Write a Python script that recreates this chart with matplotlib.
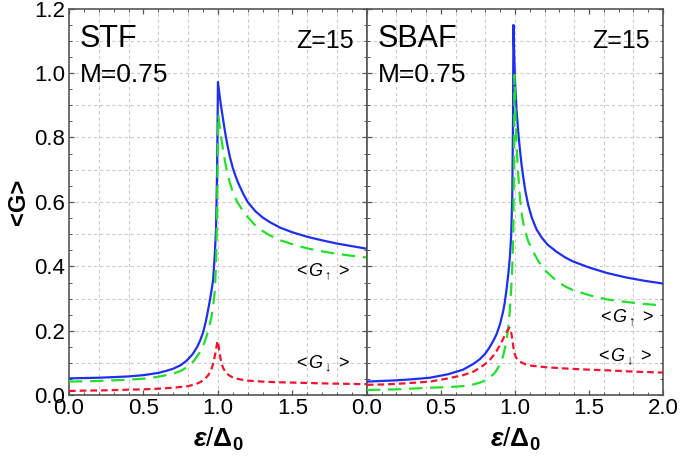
import matplotlib
matplotlib.use("Agg")
import matplotlib.pyplot as plt
from matplotlib import font_manager
from matplotlib.ticker import MultipleLocator

# ---- data ----
# STF panel
stf_tot_x = [0.0, 0.1, 0.2, 0.3, 0.4, 0.5, 0.6, 0.65, 0.7, 0.75, 0.79, 0.83, 0.86, 0.88, 0.9, 0.92,
             0.94, 0.955, 0.968, 0.978, 0.987, 0.993, 0.997, 1.0,
             1.01, 1.02, 1.03, 1.045, 1.06, 1.08, 1.1, 1.12, 1.14, 1.17, 1.2, 1.25, 1.3, 1.35,
             1.42, 1.5, 1.6, 1.7, 1.8, 1.9, 2.0]
stf_tot_y = [0.053, 0.054, 0.055, 0.057, 0.059, 0.063, 0.070, 0.076, 0.083, 0.094, 0.108, 0.128, 0.150, 0.170, 0.195, 0.232,
             0.28, 0.32, 0.36, 0.43, 0.513, 0.66, 0.81, 0.972,
             0.935, 0.90, 0.87, 0.825, 0.785, 0.74, 0.705, 0.678, 0.655, 0.625, 0.60, 0.572, 0.552, 0.537,
             0.520, 0.506, 0.492, 0.481, 0.471, 0.463, 0.455]
stf_up_x = [0.0, 0.1, 0.2, 0.3, 0.4, 0.5, 0.6, 0.7, 0.75, 0.79, 0.84, 0.88, 0.91, 0.935, 0.955, 0.969,
            0.98, 0.988, 0.994, 0.998, 1.003,
            1.01, 1.025, 1.04, 1.058, 1.08, 1.1, 1.13, 1.16, 1.2, 1.25, 1.3, 1.35, 1.42, 1.5, 1.6,
            1.7, 1.8, 1.9, 2.0]
stf_up_y = [0.043, 0.044, 0.045, 0.047, 0.049, 0.052, 0.058, 0.068, 0.076, 0.087, 0.108, 0.135, 0.165, 0.20, 0.24, 0.28,
            0.33, 0.42, 0.56, 0.72, 0.87,
            0.84, 0.79, 0.745, 0.70, 0.66, 0.63, 0.60, 0.578, 0.553, 0.528, 0.510, 0.496, 0.481, 0.469, 0.456,
            0.447, 0.439, 0.433, 0.428]
stf_dn_x = [0.0, 0.1, 0.25, 0.4, 0.5, 0.6, 0.7, 0.8, 0.85, 0.88, 0.91, 0.935, 0.955, 0.969, 0.98, 0.99,
            0.997, 1.003, 1.01, 1.017, 1.024, 1.035, 1.057, 1.08, 1.1, 1.146, 1.2, 1.3, 1.4, 1.5,
            1.75, 2.0]
stf_dn_y = [0.014, 0.015, 0.016, 0.018, 0.019, 0.021, 0.024, 0.029, 0.035, 0.041, 0.050, 0.063, 0.080, 0.100, 0.125, 0.150,
            0.169, 0.160, 0.135, 0.115, 0.10, 0.085, 0.069, 0.061, 0.056, 0.050, 0.046, 0.043, 0.041, 0.040,
            0.037, 0.035]

# SBAF panel
sbaf_tot_x = [0.0, 0.1, 0.2, 0.3, 0.426, 0.55, 0.65, 0.72, 0.764, 0.8, 0.83, 0.86, 0.876, 0.9, 0.92,
              0.932, 0.945, 0.956, 0.966, 0.975, 0.982, 0.987, 0.99,
              0.995, 1.0, 1.011, 1.022, 1.034, 1.045, 1.056, 1.07, 1.09, 1.115, 1.146, 1.18, 1.22,
              1.28, 1.34, 1.39, 1.5, 1.62, 1.75, 1.87, 2.0]
sbaf_tot_y = [0.043, 0.045, 0.047, 0.050, 0.055, 0.066, 0.080, 0.098, 0.113, 0.130, 0.150, 0.175, 0.19, 0.222, 0.26,
              0.29, 0.335, 0.38, 0.43, 0.50, 0.62, 0.85, 1.149,
              1.06, 0.98, 0.885, 0.82, 0.761, 0.715, 0.678, 0.635, 0.59, 0.55, 0.515, 0.49, 0.468,
              0.446, 0.428, 0.416, 0.397, 0.380, 0.366, 0.356, 0.347]
sbaf_up_x = [0.0, 0.2, 0.426, 0.55, 0.65, 0.72, 0.764, 0.8, 0.83, 0.86, 0.876, 0.9, 0.92, 0.943,
             0.955, 0.965, 0.972, 0.977, 0.983, 0.989, 0.993, 0.997,
             1.003, 1.011, 1.02, 1.034, 1.05, 1.068, 1.09, 1.124, 1.16, 1.21, 1.28, 1.34, 1.39,
             1.51, 1.62, 1.75, 1.87, 2.0]
sbaf_up_y = [0.017, 0.019, 0.024, 0.026, 0.029, 0.034, 0.040, 0.047, 0.056, 0.068, 0.078, 0.097, 0.122, 0.168,
             0.21, 0.26, 0.31, 0.348, 0.41, 0.50, 0.70, 0.994,
             0.88, 0.78, 0.70, 0.61, 0.55, 0.51, 0.478, 0.445, 0.415, 0.385, 0.356, 0.338, 0.327,
             0.310, 0.298, 0.290, 0.284, 0.279]
sbaf_dn_x = [0.0, 0.1, 0.2, 0.3, 0.426, 0.55, 0.65, 0.72, 0.764, 0.8, 0.83, 0.855, 0.876, 0.9, 0.92,
             0.935, 0.945, 0.955, 0.962, 0.97, 0.975, 0.982, 0.989, 0.995, 1.003, 1.016, 1.03,
             1.05, 1.075, 1.1, 1.2, 1.326, 1.45, 1.62, 1.8, 2.0]
sbaf_dn_y = [0.033, 0.034, 0.036, 0.039, 0.043, 0.053, 0.063, 0.074, 0.086, 0.098, 0.110, 0.124, 0.138, 0.157, 0.175,
             0.19, 0.198, 0.206, 0.21, 0.207, 0.195, 0.175, 0.151, 0.135, 0.122, 0.112, 0.106,
             0.101, 0.096, 0.093, 0.088, 0.084, 0.081, 0.078, 0.074, 0.071]

panels = [("STF", stf_tot_x, stf_tot_y, stf_up_x, stf_up_y, stf_dn_x, stf_dn_y,
           (1.70, 0.383), (1.70, 0.10)),
          ("SBAF", sbaf_tot_x, sbaf_tot_y, sbaf_up_x, sbaf_up_y, sbaf_dn_x, sbaf_dn_y,
           (1.75, 0.24), (1.74, 0.12))]

names = {f.name for f in font_manager.fontManager.ttflist}
tick_font = "Liberation Sans Narrow" if "Liberation Sans Narrow" in names else "Liberation Sans"
tick_size = 17 if tick_font == "Liberation Sans Narrow" else 16

plt.rcParams['font.family'] = ['Liberation Sans', 'DejaVu Sans']
plt.rcParams['mathtext.fontset'] = 'custom'
plt.rcParams['mathtext.rm'] = 'Liberation Sans'
plt.rcParams['mathtext.it'] = 'Liberation Sans:italic'
plt.rcParams['mathtext.bf'] = 'Liberation Sans:bold'
plt.rcParams['mathtext.bfit'] = 'Liberation Sans:italic:bold'

frame_col = "#555555"
fig = plt.figure(figsize=(6.8, 4.62), dpi=100)
axes = [fig.add_axes([0.1015, 0.144, 0.438, 0.8376]),
        fig.add_axes([0.5395, 0.144, 0.4355, 0.8376])]

for i, (ax, p) in enumerate(zip(axes, panels)):
    name, tx, ty, ux, uy, dx, dy, up_pos, dn_pos = p
    ax.plot(tx, ty, color="#1f2ff0", lw=1.6, zorder=3)
    ax.plot(ux, uy, color="#22e02a", lw=1.6, dashes=(6, 3.5), zorder=3)
    ax.plot(dx, dy, color="#f0142e", lw=1.6, dashes=(3, 1.8), zorder=3)
    ax.set_xlim(0, 2.0)
    ax.set_ylim(0, 1.2)
    ax.xaxis.set_major_locator(MultipleLocator(0.5))
    ax.xaxis.set_minor_locator(MultipleLocator(0.1))
    ax.yaxis.set_major_locator(MultipleLocator(0.2))
    ax.yaxis.set_minor_locator(MultipleLocator(0.05))
    for xv in [0.2 * k for k in range(1, 10)]:
        ax.axvline(xv, color="#cccccc", lw=0.8, dashes=(3, 2.5), zorder=1)
    for yv in [0.1 * k for k in range(1, 12)]:
        ax.axhline(yv, color="#cccccc", lw=0.8, dashes=(3, 2.5), zorder=1)
    ax.tick_params(which='both', direction='in', top=True, right=True, color=frame_col)
    ax.tick_params(which='major', length=3.6, width=0.9)
    ax.tick_params(which='minor', length=2.4, width=0.7)
    ax.tick_params(axis='x', pad=2)
    ax.tick_params(axis='y', pad=3)
    for s in ax.spines.values():
        s.set_color(frame_col)
        s.set_linewidth(1.2)
    ax.set_xticks([0.0, 0.5, 1.0, 1.5, 2.0])
    if i == 0:
        ax.set_xticklabels(["0.0", "0.5", "1.0", "1.5", ""])
        ax.set_ylabel("<G>", fontsize=17, fontweight='bold')
        ax.yaxis.set_label_coords(-0.13, 0.5)
    else:
        ax.set_xticklabels(["0.0", "0.5", "1.0", "1.5", "2.0"])
        ax.set_yticklabels([])
    for lab in ax.get_xticklabels() + ax.get_yticklabels():
        lab.set_fontfamily(tick_font)
        lab.set_fontsize(tick_size)
    ax.set_xlabel(r'$\mathbfit{\varepsilon}/\mathbf{\Delta_0}$', fontsize=19, labelpad=5)
    ax.text(0.037, 0.921, name, transform=ax.transAxes, fontsize=22, va='center', ha='left')
    ax.text(0.037, 0.828, "M=0.75", transform=ax.transAxes, fontsize=19, va='center', ha='left')
    ax.text(0.955, 0.916, "Z=15", transform=ax.transAxes, fontsize=18, va='center', ha='right')
    ax.text(up_pos[0], up_pos[1], r'$<\!\mathit{G}_{\uparrow}\,>$', fontsize=13, ha='center', va='center')
    ax.text(dn_pos[0], dn_pos[1], r'$<\!\mathit{G}_{\downarrow}\,>$', fontsize=13, ha='center', va='center')

fig.savefig("out.png", dpi=100)
